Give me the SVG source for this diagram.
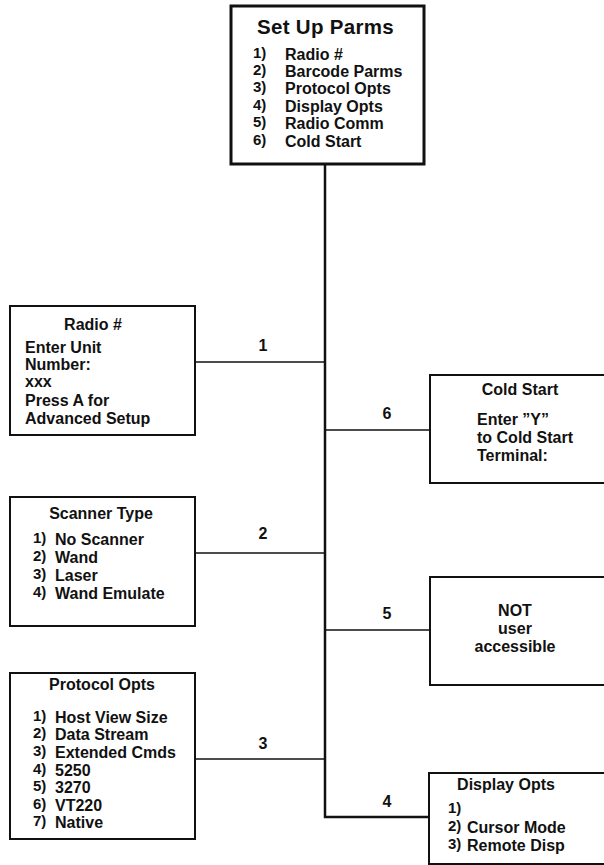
<svg xmlns="http://www.w3.org/2000/svg" width="604" height="865" viewBox="0 0 604 865">
<style>
text{font-family:"Liberation Sans",Arial,sans-serif;font-weight:bold;font-size:16px;fill:#111}
.t{text-anchor:middle}
.n{font-size:15px}
.box{fill:#fff;stroke:#111;stroke-width:2}
.c{stroke:#111;stroke-width:1.5;fill:none}
</style>
<rect width="604" height="865" fill="#fff"/>
<g id="connectors">
<path d="M325 164 V817 H429" stroke="#111" stroke-width="2.5" fill="none"/>
<line class="c" x1="195" y1="362" x2="325" y2="362"/>
<line class="c" x1="325" y1="430" x2="430" y2="430"/>
<line class="c" x1="195" y1="553" x2="325" y2="553"/>
<line class="c" x1="325" y1="630" x2="430" y2="630"/>
<line class="c" x1="195" y1="759" x2="325" y2="759"/>
<text class="t" x="263" y="351">1</text>
<text class="t" x="387" y="419">6</text>
<text class="t" x="263" y="539">2</text>
<text class="t" x="387" y="619">5</text>
<text class="t" x="263" y="749">3</text>
<text class="t" x="387" y="807">4</text>
</g>
<g id="setup">
<rect x="231" y="6" width="193" height="158" fill="#fff" stroke="#111" stroke-width="3"/>
<text x="257" y="34" style="font-size:20.5px;letter-spacing:0.3px">Set Up Parms</text>
<text class="n" x="253" y="58">1)</text><text x="285" y="60">Radio #</text>
<text class="n" x="253" y="75">2)</text><text x="285" y="77">Barcode Parms</text>
<text class="n" x="253" y="92">3)</text><text x="285" y="94">Protocol Opts</text>
<text class="n" x="253" y="110">4)</text><text x="285" y="112">Display Opts</text>
<text class="n" x="253" y="127">5)</text><text x="285" y="129">Radio Comm</text>
<text class="n" x="253" y="145">6)</text><text x="285" y="147">Cold Start</text>
</g>
<g id="radio">
<rect class="box" x="10" y="306" width="185" height="129"/>
<text class="t" x="93" y="330">Radio #</text>
<text x="25" y="353">Enter Unit</text>
<text x="25" y="370">Number:</text>
<text x="25" y="387">xxx</text>
<text x="25" y="406">Press A for</text>
<text x="25" y="424">Advanced Setup</text>
</g>
<g id="coldstart">
<rect class="box" x="430" y="375" width="180" height="108"/>
<text class="t" x="520" y="395">Cold Start</text>
<text x="477" y="425">Enter ”Y”</text>
<text x="477" y="443">to Cold Start</text>
<text x="477" y="461">Terminal:</text>
</g>
<g id="scanner">
<rect class="box" x="10" y="497" width="185" height="129"/>
<text class="t" x="101" y="519">Scanner Type</text>
<text class="n" x="33" y="543">1)</text><text x="55" y="545">No Scanner</text>
<text class="n" x="33" y="561">2)</text><text x="55" y="563">Wand</text>
<text class="n" x="33" y="579">3)</text><text x="55" y="581">Laser</text>
<text class="n" x="33" y="597">4)</text><text x="55" y="599">Wand Emulate</text>
</g>
<g id="notuser">
<rect class="box" x="430" y="577" width="180" height="108"/>
<text class="t" x="515" y="616">NOT</text>
<text class="t" x="515" y="634">user</text>
<text class="t" x="515" y="652">accessible</text>
</g>
<g id="protocol">
<rect class="box" x="10" y="673" width="185" height="166"/>
<text class="t" x="102" y="690">Protocol Opts</text>
<text class="n" x="33" y="721">1)</text><text x="55" y="723">Host View Size</text>
<text class="n" x="33" y="738">2)</text><text x="55" y="740">Data Stream</text>
<text class="n" x="33" y="756">3)</text><text x="55" y="758">Extended Cmds</text>
<text class="n" x="33" y="774">4)</text><text x="55" y="776">5250</text>
<text class="n" x="33" y="791">5)</text><text x="55" y="793">3270</text>
<text class="n" x="33" y="809">6)</text><text x="55" y="811">VT220</text>
<text class="n" x="33" y="826">7)</text><text x="55" y="828">Native</text>
</g>
<g id="display">
<rect class="box" x="429" y="773" width="180" height="91"/>
<text class="t" x="506" y="790">Display Opts</text>
<text class="n" x="448" y="813">1)</text>
<text class="n" x="448" y="831">2)</text><text x="467" y="833">Cursor Mode</text>
<text class="n" x="448" y="849">3)</text><text x="467" y="851">Remote Disp</text>
</g>
</svg>
